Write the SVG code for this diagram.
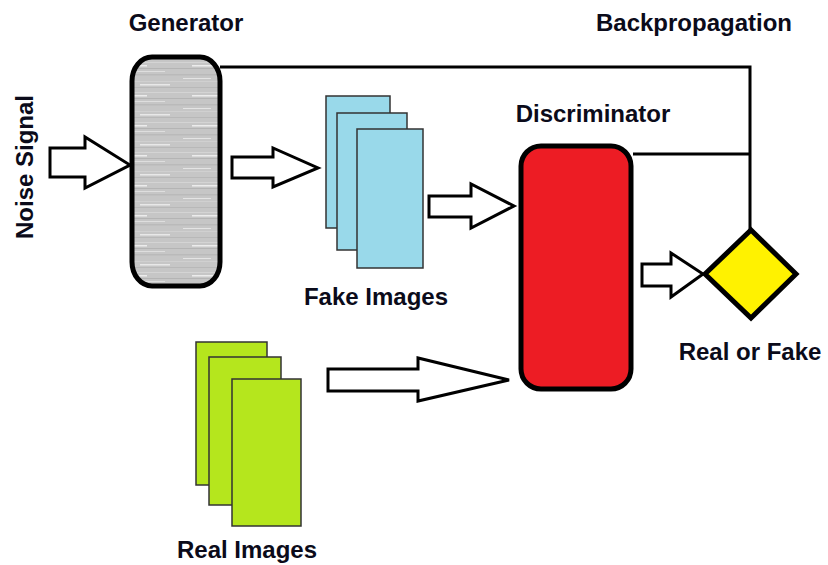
<svg xmlns="http://www.w3.org/2000/svg" width="828" height="565" viewBox="0 0 828 565">
<style>
.lbl{font-family:"Liberation Sans",Arial,sans-serif;font-weight:bold;font-size:24px;fill:#0b0b1a;text-anchor:middle}
.arrow{fill:#fff;stroke:#000;stroke-width:3;stroke-linejoin:miter}
.fake{fill:#99d9ea;stroke:#333;stroke-width:1.5}
.real{fill:#b5e61d;stroke:#333;stroke-width:1.5}
.wire{fill:none;stroke:#000;stroke-width:3}
</style>
<defs>
<pattern id="noise" width="90" height="30" patternUnits="userSpaceOnUse">
<rect width="90" height="30" fill="#c6c6c6"/>
<rect x="0" y="2" width="90" height="1" fill="#d4d4d4"/>
<rect x="12" y="5" width="45" height="1.5" fill="#ececec"/>
<rect x="0" y="8" width="90" height="1" fill="#b4b4b4"/>
<rect x="40" y="11" width="35" height="1" fill="#dedede"/>
<rect x="0" y="14" width="90" height="1.5" fill="#bababa"/>
<rect x="3" y="18" width="28" height="1" fill="#e4e4e4"/>
<rect x="0" y="21" width="90" height="1" fill="#d0d0d0"/>
<rect x="50" y="24" width="30" height="1.5" fill="#e8e8e8"/>
<rect x="0" y="27" width="90" height="1" fill="#b8b8b8"/>
</pattern>
</defs>
<g id="labels">
<text class="lbl" x="186" y="31">Generator</text>
<text class="lbl" x="694" y="31">Backpropagation</text>
<text class="lbl" x="593" y="122">Discriminator</text>
<text class="lbl" x="376" y="305">Fake Images</text>
<text class="lbl" x="750" y="360">Real or Fake</text>
<text class="lbl" x="247" y="558">Real Images</text>
<text class="lbl" transform="translate(33,167) rotate(-90)" x="0" y="0">Noise Signal</text>
</g>
<g id="connectors">
<polyline class="wire" points="220,67 750,67 750,230"/>
<polyline class="wire" points="633,154 750,154"/>
<polygon class="arrow" points="50,148 85,148 85,137 130,165 85,188 85,177 50,177"/>
<polygon class="arrow" points="232,157 273,157 273,148 318,168 273,187 273,178 232,178"/>
<polygon class="arrow" points="429,196 471,196 471,184 514,206 471,228 471,217 429,217"/>
<polygon class="arrow" points="642,264 671,264 671,253 703,274 671,297 671,286 642,286"/>
<polygon class="arrow" points="328,369 418,369 418,358 509,380 418,401 418,391 328,391"/>
</g>
<g id="generator">
<rect x="132" y="57" width="88" height="229" rx="20" ry="24" fill="url(#noise)" stroke="#000" stroke-width="5"/>
</g>
<g id="fake-images">
<rect class="fake" x="326" y="96" width="64" height="132"/>
<rect class="fake" x="337" y="113" width="70" height="137"/>
<rect class="fake" x="357" y="129" width="66" height="139"/>
</g>
<g id="real-images">
<rect class="real" x="196" y="342" width="71" height="143"/>
<rect class="real" x="209" y="357" width="72" height="148"/>
<rect class="real" x="232" y="379" width="69" height="147"/>
</g>
<g id="discriminator">
<rect x="521" y="146" width="110" height="243" rx="20" ry="20" fill="#ed1c24" stroke="#000" stroke-width="5"/>
</g>
<g id="decision">
<polygon points="751,230 796,274 751,318 705,274" fill="#fff200" stroke="#000" stroke-width="5" stroke-linejoin="miter"/>
</g>
</svg>
